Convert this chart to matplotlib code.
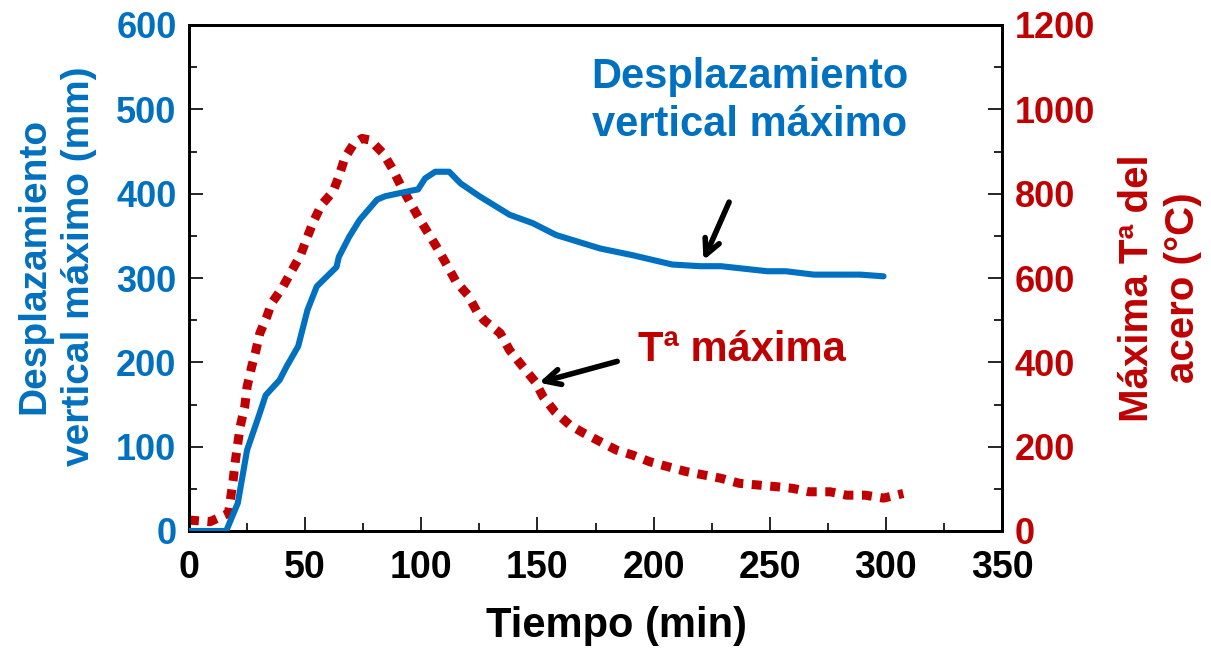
import numpy as np
import matplotlib.pyplot as plt
from matplotlib.ticker import MultipleLocator

plt.rcParams['font.family'] = ['Liberation Sans', 'DejaVu Sans']
plt.rcParams['font.weight'] = 'bold'

BLUE = '#0070C0'
RED = '#C00000'

# vertical displacement (mm) vs time (min)
t_disp = [0, 16, 21, 25, 30, 33, 39, 42, 47, 51, 55, 63.5, 64.5, 69, 73.5, 81, 84.5,
          96.5, 98.6, 101.6, 106, 112, 117, 125, 138, 148, 158, 177, 191, 208,
          220, 229, 249, 257, 269, 289, 299]
disp = [0, 0, 33, 96, 136, 161, 179, 195, 219, 262, 290, 313, 325, 349, 369, 393, 397,
        404, 405, 418, 426, 426, 412, 397, 375, 365, 351, 335, 327, 316,
        314, 314, 308, 308, 304, 304, 302]

# max steel temperature (C) vs time (min)
t_temp = [0, 9, 17, 19, 20, 22, 24, 25, 27, 28.5, 30.5, 33.5, 35.5, 40, 44, 48, 51,
          53.5, 57, 62, 64.5, 67, 71, 74.5, 78, 83.5, 87.5, 91, 95, 99, 103, 107,
          111, 115, 120, 124, 127, 134, 138, 142.5, 149, 152.5, 157.5, 164, 170,
          177, 184, 191, 198.5, 206.5, 214, 221.5, 229, 237, 245, 253, 260, 267,
          276, 283, 291, 299, 307.5]
temp = [26, 22, 42, 121, 168, 247, 295, 342, 390, 421, 469, 508, 540, 575, 615, 654, 698,
        733, 773, 805, 840, 884, 919, 931, 927, 896, 860, 821, 781, 742, 706, 670,
        631, 591, 560, 520, 500, 469, 429, 398, 354, 318, 283, 251, 232,
        212, 192, 180, 164, 152, 141, 133, 125, 113, 109, 105, 101, 93,
        93, 85, 85, 78, 89]

fig = plt.figure(figsize=(12.11, 6.49), dpi=100)
ax = fig.add_axes([189/1211, 1 - 531/649, (1002 - 189)/1211, (531 - 25)/649])
ax2 = ax.twinx()

ax.plot(t_disp, disp, color=BLUE, lw=4.4, solid_capstyle='round', solid_joinstyle='round', zorder=3)
ax2.plot(t_temp, temp, color=RED, lw=6.5, dashes=(1.1, 0.95), dash_capstyle='butt')

ax.set_xlim(0, 350)
ax.set_ylim(0, 600)
ax2.set_ylim(0, 1200)
ax.xaxis.set_major_locator(MultipleLocator(50))
ax.xaxis.set_minor_locator(MultipleLocator(25))
ax.yaxis.set_major_locator(MultipleLocator(100))
ax.yaxis.set_minor_locator(MultipleLocator(50))
ax2.yaxis.set_major_locator(MultipleLocator(200))
ax2.yaxis.set_minor_locator(MultipleLocator(100))

for a in (ax, ax2):
    a.tick_params(which='major', direction='in', length=10, width=1.2, labelsize=26, pad=9)
    a.tick_params(which='minor', direction='in', length=6, width=1.2)
    for s in a.spines.values():
        s.set_linewidth(2)
ax.tick_params(axis='x', labelcolor='black', labelsize=27, pad=14)
ax.tick_params(axis='y', labelcolor=BLUE)
ax2.tick_params(axis='y', labelcolor=RED)
ax.set_zorder(2)
ax.patch.set_visible(False)

fig.text(617/1211, 1 - 626/649, 'Tiempo (min)', ha='center', va='center',
         fontsize=30, fontweight='bold')

fig.text(57/1211, 1 - 266/649, 'Desplazamiento\nvertical máximo (mm)', rotation=90,
         ha='center', va='center', fontsize=28, color=BLUE, fontweight='bold',
         linespacing=1.32)
fig.text(1160/1211, 1 - 288/649, 'Máxima Tª del\nacero (°C)', rotation=90,
         ha='center', va='center', fontsize=29, color=RED, fontweight='bold',
         linespacing=1.25)

ax.text(241.5, 510, 'Desplazamiento\nvertical máximo', ha='center', va='center',
        fontsize=30, color=BLUE, fontweight='bold', linespacing=1.28)
ax.text(238, 215, 'Tª máxima', ha='center', va='center', fontsize=30,
        color=RED, fontweight='bold')

arrow = dict(arrowstyle='->,head_length=1.1,head_width=0.55', color='black', lw=4)
ax.annotate('', xy=(221, 318), xytext=(233, 393), arrowprops=arrow)
ax.annotate('', xy=(149.5, 175), xytext=(185.5, 202), arrowprops=arrow)

fig.savefig('out.png', dpi=100)
